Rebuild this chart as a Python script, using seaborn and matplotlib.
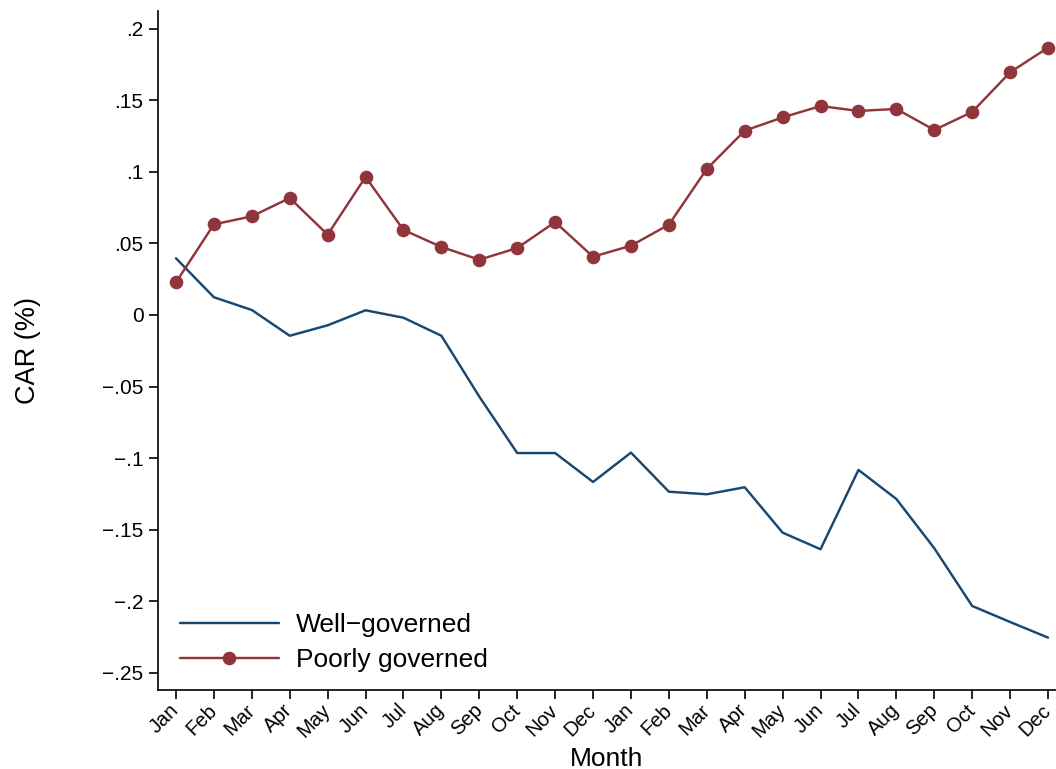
import numpy as np
import pandas as pd
import matplotlib
matplotlib.use("Agg")
import matplotlib.pyplot as plt
import seaborn as sns

months = ["Jan", "Feb", "Mar", "Apr", "May", "Jun",
          "Jul", "Aug", "Sep", "Oct", "Nov", "Dec"] * 2

well_governed = [0.0396, 0.0124, 0.0035, -0.0145, -0.0072, 0.0033,
                 -0.0019, -0.0145, -0.0570, -0.0964, -0.0964, -0.1166,
                 -0.0961, -0.1234, -0.1252, -0.1203, -0.1520, -0.1636,
                 -0.1082, -0.1285, -0.1629, -0.2032, -0.2144, -0.2253]

poorly_governed = [0.0228, 0.0633, 0.0689, 0.0817, 0.0561, 0.0964,
                   0.0594, 0.0475, 0.0386, 0.0468, 0.0649, 0.0407,
                   0.0484, 0.0631, 0.1020, 0.1287, 0.1380, 0.1459,
                   0.1425, 0.1439, 0.1292, 0.1418, 0.1695, 0.1867]

y_ticks = [-0.25, -0.2, -0.15, -0.1, -0.05, 0, 0.05, 0.1, 0.15, 0.2]
y_tick_labels = ["\u2212.25", "\u2212.2", "\u2212.15", "\u2212.1", "\u2212.05",
                 "0", ".05", ".1", ".15", ".2"]

sns.set_style("ticks")
plt.rcParams["font.family"] = ["Liberation Sans", "DejaVu Sans"]
plt.rcParams["text.color"] = "black"
plt.rcParams["axes.labelcolor"] = "black"
plt.rcParams["xtick.color"] = "black"
plt.rcParams["ytick.color"] = "black"

navy = "#1a476f"
maroon = "#90353b"

df = pd.DataFrame({
    "t": np.arange(len(months)),
    "well": well_governed,
    "poor": poorly_governed,
})

fig = plt.figure(figsize=(10.56, 7.69), dpi=100)
ax = fig.add_axes([0.1496, 0.1027, 0.8504, 0.883])

sns.lineplot(data=df, x="t", y="well", ax=ax, color=navy, linewidth=1.75,
             label="Well\u2212governed")
sns.lineplot(data=df, x="t", y="poor", ax=ax, color=maroon, linewidth=1.75,
             marker="o", markersize=9.8, markeredgewidth=0,
             label="Poorly governed")

ax.set_xlim(-0.475, 23.21)
ax.set_ylim(-0.2619, 0.2123)

ax.set_xticks(df["t"])
ax.set_xticklabels(months, rotation=45, ha="right", va="center",
                   rotation_mode="anchor", fontsize=14.5)
ax.set_yticks(y_ticks)
ax.set_yticklabels(y_tick_labels, fontsize=15)
ax.tick_params(axis="both", direction="out", length=6.5, width=1.2,
               color="black")
ax.tick_params(axis="x", pad=6)
ax.tick_params(axis="y", pad=4)

for side in ["top", "right"]:
    ax.spines[side].set_visible(False)
for side in ["left", "bottom"]:
    ax.spines[side].set_color("black")
    ax.spines[side].set_linewidth(1.2)

ax.set_xlabel("Month", fontsize=19, labelpad=4)
ax.set_ylabel("CAR (%)", fontsize=19.5, labelpad=44)

leg = ax.legend(loc="lower left", frameon=False, fontsize=19,
                handlelength=3.75, handletextpad=0.64, labelspacing=0.42,
                borderpad=0, borderaxespad=0,
                bbox_to_anchor=(0.0245, 0.026))

fig.savefig("out.png", dpi=100)
